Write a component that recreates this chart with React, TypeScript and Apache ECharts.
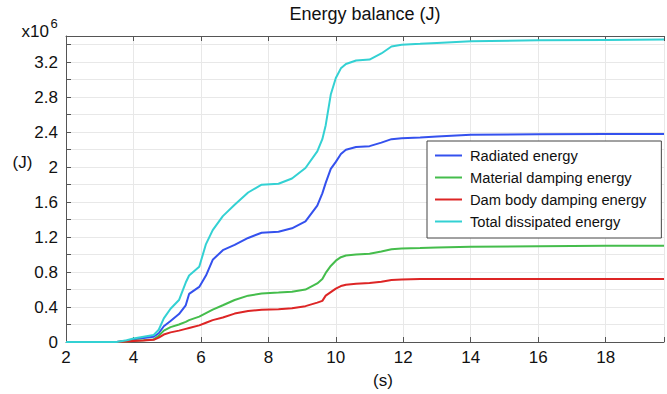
import React, { useEffect, useRef } from "react";
import * as echarts from "echarts";

const timeS = [2, 3.5, 3.8, 4.0, 4.3, 4.6, 4.75, 4.9, 5.1, 5.35, 5.55, 5.65, 5.95, 6.15, 6.35, 6.65, 7.0, 7.4, 7.8, 8.3, 8.7, 9.1, 9.45, 9.6, 9.7, 9.85, 10.0, 10.15, 10.3, 10.6, 11.0, 11.35, 11.65, 11.95, 12.5, 13.0, 14.0, 16.0, 18.0, 19.73];

const radiated = [0, 0, 0.015, 0.03, 0.045, 0.06, 0.1, 0.18, 0.24, 0.32, 0.42, 0.55, 0.63, 0.76, 0.94, 1.05, 1.11, 1.19, 1.25, 1.26, 1.3, 1.38, 1.56, 1.7, 1.82, 1.98, 2.06, 2.15, 2.2, 2.23, 2.24, 2.28, 2.32, 2.33, 2.34, 2.35, 2.37, 2.375, 2.38, 2.38];

const material = [0, 0, 0.005, 0.015, 0.02, 0.03, 0.07, 0.13, 0.17, 0.2, 0.23, 0.25, 0.29, 0.33, 0.37, 0.42, 0.48, 0.53, 0.555, 0.565, 0.575, 0.6, 0.67, 0.72, 0.79, 0.87, 0.93, 0.97, 0.99, 1.0, 1.01, 1.035, 1.06, 1.07, 1.075, 1.08, 1.09, 1.095, 1.1, 1.1];

const damBody = [0, 0, 0.005, 0.012, 0.018, 0.025, 0.05, 0.085, 0.11, 0.13, 0.15, 0.16, 0.19, 0.22, 0.25, 0.28, 0.325, 0.355, 0.37, 0.375, 0.385, 0.41, 0.45, 0.47, 0.53, 0.57, 0.61, 0.64, 0.655, 0.665, 0.675, 0.69, 0.71, 0.715, 0.72, 0.72, 0.72, 0.72, 0.72, 0.72];

const total = [0, 0, 0.02, 0.04, 0.06, 0.08, 0.14, 0.27, 0.38, 0.48, 0.68, 0.76, 0.86, 1.12, 1.28, 1.44, 1.57, 1.71, 1.8, 1.81, 1.87, 1.99, 2.18, 2.32, 2.48, 2.83, 3.02, 3.13, 3.18, 3.22, 3.23, 3.3, 3.38, 3.4, 3.41, 3.42, 3.44, 3.45, 3.455, 3.46];

const seriesNames = ["Radiated energy", "Material damping energy", "Dam body damping energy", "Total dissipated energy"];
const seriesColors = ["#3451ee", "#45bd4c", "#dd2525", "#33d1d3"];
const seriesValues = [radiated, material, damBody, total];

const FONT = "Liberation Sans, Arial, sans-serif";

export default function App() {
  const ref = useRef<HTMLDivElement>(null);
  useEffect(() => {
    document.body.style.margin = "0";
    const chart = echarts.init(ref.current!, null, { renderer: "svg" });
    const axisColor = "#555";
    const gridColor = "#e8e8e8";
    chart.setOption({
      animation: false,
      backgroundColor: "#fff",
      textStyle: { fontFamily: FONT },
      grid: { left: 66, right: 0, top: 36, bottom: 52, containLabel: false },
      legend: {
        orient: "vertical",
        left: 427,
        top: 141,
        data: seriesNames,
        icon: "rect",
        backgroundColor: "#fff",
        borderColor: "#444",
        borderWidth: 1,
        padding: [6, 15, 8, 8],
        itemWidth: 27,
        itemHeight: 2,
        itemGap: 5,
        textStyle: { fontFamily: FONT, fontSize: 14.7, color: "#111", lineHeight: 17, padding: [0, 0, 0, 3] },
      },
      xAxis: [
        {
          type: "value",
          min: 2,
          max: 19.73,
          interval: 2,
          position: "bottom",
          axisLine: { show: true, lineStyle: { color: axisColor, width: 1 } },
          axisTick: { show: true, inside: true, length: 5, lineStyle: { color: axisColor } },
          axisLabel: {
            fontFamily: FONT,
            fontSize: 17,
            color: "#111",
            margin: 7,
            formatter: (v: number) => (Math.abs(v - Math.round(v)) < 1e-6 ? String(Math.round(v)) : ""),
          },
          splitLine: { show: true, lineStyle: { color: gridColor, width: 1 } },
        },
        {
          type: "value",
          min: 2,
          max: 19.73,
          interval: 2,
          position: "top",
          axisLine: { show: true, lineStyle: { color: axisColor, width: 1 } },
          axisTick: { show: true, inside: true, length: 5, lineStyle: { color: axisColor } },
          axisLabel: { show: false },
          splitLine: { show: false },
        },
      ],
      yAxis: [
        {
          type: "value",
          min: 0,
          max: 3.5,
          interval: 0.2,
          axisLine: { show: true, lineStyle: { color: axisColor, width: 1 } },
          axisTick: { show: true, inside: true, length: 5, lineStyle: { color: axisColor } },
          axisLabel: {
            fontFamily: FONT,
            fontSize: 17,
            color: "#111",
            margin: 8,
            showMaxLabel: false,
            formatter: (v: number) => {
              const k = v / 0.4;
              return Math.abs(k - Math.round(k)) < 1e-6 ? String(+v.toFixed(1)) : "";
            },
          },
          splitLine: { show: true, lineStyle: { color: gridColor, width: 1 } },
        },
      ],
      series: seriesNames.map((name, i) => ({
        name,
        type: "line",
        xAxisIndex: 0,
        yAxisIndex: 0,
        symbol: "none",
        smooth: false,
        color: seriesColors[i],
        itemStyle: { color: seriesColors[i] },
        lineStyle: { color: seriesColors[i], width: 2 },
        data: timeS.map((t, j) => [t, seriesValues[i][j]]),
      })),
      graphic: [
        {
          type: "text",
          x: 365,
          y: 14,
          style: { text: "Energy balance (J)", font: `18px ${FONT}`, fill: "#111", align: "center", verticalAlign: "middle" },
        },
        {
          type: "text",
          x: 21.5,
          y: 31,
          style: { text: "x10", font: `17px ${FONT}`, fill: "#111", align: "left", verticalAlign: "middle" },
        },
        {
          type: "text",
          x: 50.5,
          y: 23,
          style: { text: "6", font: `13px ${FONT}`, fill: "#111", align: "left", verticalAlign: "middle" },
        },
        {
          type: "text",
          x: 22.5,
          y: 162,
          style: { text: "(J)", font: `17px ${FONT}`, fill: "#111", align: "center", verticalAlign: "middle" },
        },
        {
          type: "text",
          x: 383,
          y: 380,
          style: { text: "(s)", font: `17px ${FONT}`, fill: "#111", align: "center", verticalAlign: "middle" },
        },
      ],
    });
    return () => chart.dispose();
  }, []);
  return <div ref={ref} style={{ width: 667, height: 394 }} />;
}
